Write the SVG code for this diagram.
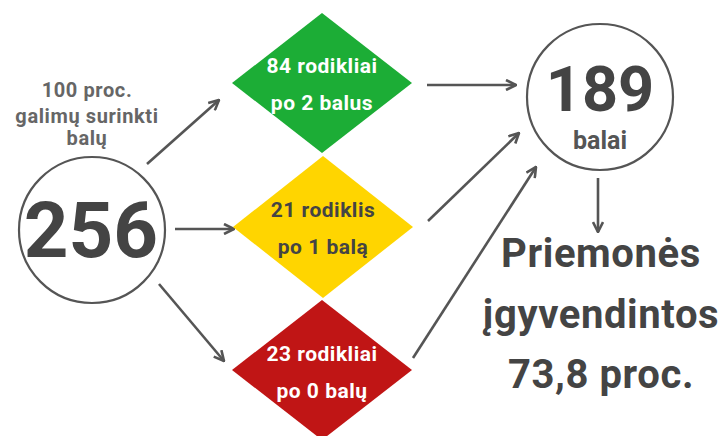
<svg xmlns="http://www.w3.org/2000/svg" width="723" height="436" viewBox="0 0 723 436">
<defs>
<marker id="ah" viewBox="0 0 12 12" refX="11" refY="6" markerWidth="12" markerHeight="12" markerUnits="userSpaceOnUse" orient="auto">
<path d="M1,1 L11,6 L1,11" fill="none" stroke="#555" stroke-width="2.6" stroke-linejoin="miter"/>
</marker>
<style>
.t{font-family:Roboto,"Liberation Sans",sans-serif;font-weight:bold;text-anchor:middle}
.d{font-size:21px;letter-spacing:0.5px}
.l{font-size:20px;letter-spacing:0.6px;fill:#666}
.r{font-size:40px;letter-spacing:0.6px;fill:#444}
.ring{fill:#fff;stroke:#555;stroke-width:2.2}
.c{fill:none;stroke:#555;stroke-width:2.6;marker-end:url(#ah)}
</style>
</defs>
<rect width="723" height="436" fill="#fff"/>
<g id="connectors">
<line class="c" x1="147" y1="164" x2="219" y2="100"/>
<line class="c" x1="175" y1="229" x2="234" y2="229"/>
<line class="c" x1="159" y1="284" x2="224" y2="361"/>
<line class="c" x1="427" y1="85" x2="516" y2="85"/>
<line class="c" x1="428" y1="221" x2="519" y2="133"/>
<line class="c" x1="413" y1="358" x2="536" y2="167"/>
<line class="c" x1="598" y1="178" x2="598" y2="232"/>
</g>
<g id="label-100">
<text class="t l" x="87" y="97">100 proc.</text>
<text class="t l" x="87" y="123">galimų surinkti</text>
<text class="t l" x="87" y="145">balų</text>
</g>
<g id="node-256">
<circle class="ring" cx="92" cy="230" r="73"/>
<text class="t" x="91" y="257" font-size="78" fill="#444">256</text>
</g>
<g id="node-green">
<polygon points="322,13 412,83 322,153 232,83" fill="#1cad36"/>
<text class="t d" x="322" y="73" fill="#fff">84 rodikliai</text>
<text class="t d" x="322" y="110" fill="#fff">po 2 balus</text>
</g>
<g id="node-yellow">
<polygon points="323,156 413,227 323,298 233,227" fill="#ffd500"/>
<text class="t d" x="323" y="217" fill="#444">21 rodiklis</text>
<text class="t d" x="323" y="254" fill="#444">po 1 balą</text>
</g>
<g id="node-red">
<polygon points="322,300 412,370 322,440 232,370" fill="#c01515"/>
<text class="t d" x="322" y="361" fill="#fff">23 rodikliai</text>
<text class="t d" x="322" y="398" fill="#fff">po 0 balų</text>
</g>
<g id="node-189">
<circle class="ring" cx="600" cy="97" r="73"/>
<text class="t" x="600" y="111" font-size="63" fill="#444">189</text>
<text class="t" x="600" y="149" font-size="25" fill="#555">balai</text>
</g>
<g id="result">
<text class="t r" x="601" y="267">Priemonės</text>
<text class="t r" x="601" y="328">įgyvendintos</text>
<text class="t r" x="601" y="388">73,8 proc.</text>
</g>
</svg>
